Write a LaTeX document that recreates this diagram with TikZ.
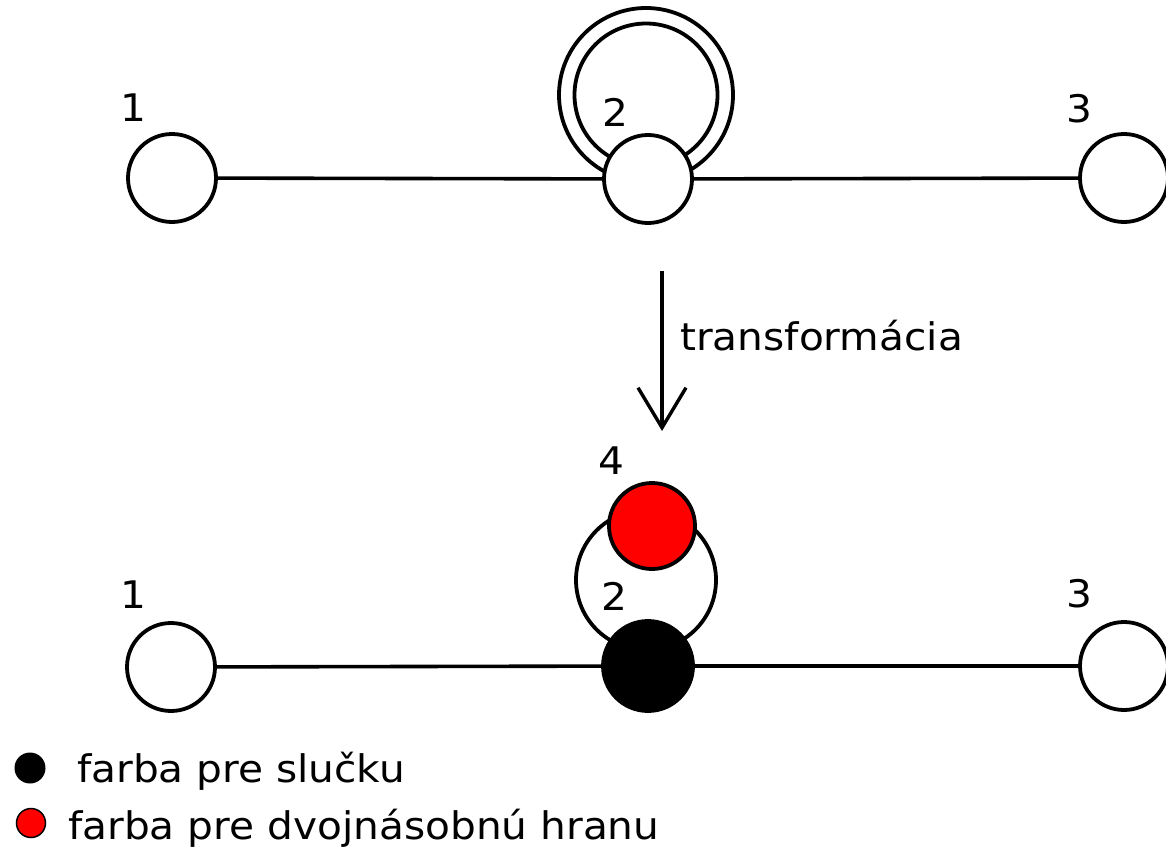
\documentclass[tikz,border=0pt]{standalone}
\usepackage{fontspec}
\setmainfont[FakeStretch=1.07]{DejaVu Sans}
\usetikzlibrary{arrows.meta}
\definecolor{loopred}{RGB}{255,0,0}
\begin{document}
\begin{tikzpicture}[x=1pt,y=-1pt,
  vertex/.style={circle,draw,line width=3.8pt,fill=white,minimum size=88pt,inner sep=0pt},
  edge/.style={line width=3.6pt},
  lbl/.style={inner sep=0pt,font=\fontsize{38}{40}\selectfont},
  legtext/.style={inner sep=0pt,anchor=base west,font=\fontsize{38}{40}\selectfont}]
\useasboundingbox (0,0) rectangle (1166,851);

% upper graph: double self-loop at vertex 2
\coordinate (topc) at (646,95);
\draw[line width=3.8pt] (topc) circle (87);
\draw[line width=3.8pt] (topc) circle (71.5);
\node[vertex] (a1) at (172,178) {};
\node[vertex] (a2) at (648,179) {};
\node[vertex] (a3) at (1124,178) {};
\draw[edge] (a1) -- (a2);
\draw[edge] (a2) -- (a3);
\node[lbl] (la1) at (133,108) {1};
\node[lbl] (la2) at (615,112) {2};
\node[lbl] (la3) at (1079,109) {3};

% transformation arrow
\coordinate (arrtop) at (662,271);
\coordinate (arrtip) at (662,431);
\draw[line width=3.4pt,-{Straight Barb[length=40pt,width=48pt,line width=3.4pt]}] (arrtop) -- (arrtip);
\node[legtext] (tr) at (680,350) {transformácia};

% lower graph: loop replaced by a new vertex
\coordinate (botc) at (646,580);
\draw[line width=3.8pt] (botc) circle (70);
\node[vertex] (b1) at (171,667) {};
\node[vertex,fill=black,minimum size=90pt] (b2) at (648,666) {};
\node[vertex] (b3) at (1124,666) {};
\node[vertex,fill=loopred,minimum size=86pt] (b4) at (652,526) {};
\draw[edge] (b1) -- (b2);
\draw[edge] (b2) -- (b3);
\node[lbl] (lb1) at (133,595) {1};
\node[lbl] (lb2) at (614,596) {2};
\node[lbl] (lb3) at (1079,594) {3};
\node[lbl] (lb4) at (611,461) {4};

% legend
\node[circle,fill=black,minimum size=31pt,inner sep=0pt] (k1) at (30,768) {};
\node[legtext] (t1) at (77,782) {farba pre slučku};
\node[circle,fill=loopred,draw=black,line width=1.5pt,minimum size=29pt,inner sep=0pt] (k2) at (31,823) {};
\node[legtext] (t2) at (68,839) {farba pre dvojnásobnú hranu};
\end{tikzpicture}
\end{document}
